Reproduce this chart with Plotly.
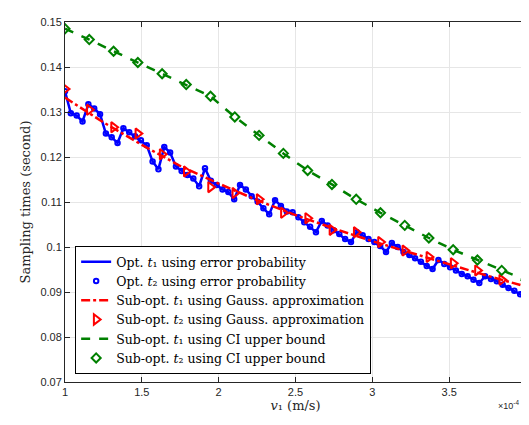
"""Sampling times vs. velocity v1: optimal vs. sub-optimal schemes."""

import plotly.graph_objects as go

# v1 in units of 1e-4 m/s
V1_OPT = [
    1.000, 1.038, 1.076, 1.114, 1.152, 1.190, 1.228, 1.266, 1.304, 1.342,
    1.380, 1.418, 1.456, 1.494, 1.532, 1.570, 1.608, 1.646, 1.684, 1.722,
    1.759, 1.797, 1.835, 1.873, 1.911, 1.949, 1.987, 2.025, 2.063, 2.101,
    2.139, 2.177, 2.215, 2.253, 2.291, 2.329, 2.367, 2.405, 2.443, 2.481,
    2.519, 2.557, 2.595, 2.633, 2.671, 2.709, 2.747, 2.785, 2.823, 2.861,
    2.899, 2.937, 2.975, 3.013, 3.051, 3.089, 3.127, 3.165, 3.203, 3.241,
    3.278, 3.316, 3.354, 3.392, 3.430, 3.468, 3.506, 3.544, 3.582, 3.620,
    3.658, 3.696, 3.734, 3.772, 3.810, 3.848, 3.886, 3.924, 3.962, 4.000,
]
T_OPT = [
    0.1346, 0.1297, 0.1292, 0.1279, 0.1317, 0.1308, 0.1295, 0.1252, 0.1244, 0.1231,
    0.1264, 0.1255, 0.1246, 0.1237, 0.1226, 0.1190, 0.1173, 0.1222, 0.1210, 0.1179,
    0.1169, 0.1160, 0.1152, 0.1135, 0.1175, 0.1147, 0.1138, 0.1128, 0.1122, 0.1106,
    0.1138, 0.1128, 0.1113, 0.1101, 0.1086, 0.1073, 0.1104, 0.1091, 0.1079, 0.1077,
    0.1066, 0.1055, 0.1045, 0.1033, 0.1058, 0.1048, 0.1037, 0.1029, 0.1018, 0.1011,
    0.1033, 0.1026, 0.1018, 0.1011, 0.1002, 0.0989, 0.1009, 0.1000, 0.0989, 0.0982,
    0.0975, 0.0967, 0.0958, 0.0951, 0.0971, 0.0962, 0.0955, 0.0948, 0.0940, 0.0935,
    0.0927, 0.0920, 0.0935, 0.0929, 0.0924, 0.0916, 0.0909, 0.0903, 0.0895, 0.0887,
]

V1_GAUSS_LINE = [1.0, 1.25, 1.5, 1.75, 2.0, 2.25, 2.5, 2.75, 3.0, 3.25, 3.5, 3.75, 4.0]
T_GAUSS_LINE = [0.1332, 0.1277, 0.1227, 0.1180, 0.1141, 0.1104, 0.1071,
                0.1041, 0.1013, 0.0987, 0.0961, 0.0936, 0.0912]

V1_MARK = [
    1.000, 1.158, 1.316, 1.474, 1.632, 1.789, 1.947, 2.105, 2.263, 2.421,
    2.579, 2.737, 2.895, 3.053, 3.211, 3.368, 3.526, 3.684, 3.842, 4.000,
]
T_GAUSS_MARK = [
    0.1351, 0.1305, 0.1266, 0.1252, 0.1206, 0.1168, 0.1133, 0.1120, 0.1106, 0.1076,
    0.1064, 0.1038, 0.1033, 0.1011, 0.0992, 0.0978, 0.0964, 0.0948, 0.0927, 0.0911,
]
T_CI = [
    0.1485, 0.1461, 0.1435, 0.1410, 0.1385, 0.1361, 0.1335, 0.1289, 0.1248, 0.1208,
    0.1170, 0.1139, 0.1106, 0.1076, 0.1048, 0.1020, 0.0994, 0.0971, 0.0948, 0.0926,
]

X_TICKS = [1, 1.5, 2, 2.5, 3, 3.5, 4]
X_TICK_LABELS = ["1", "1.5", "2", "2.5", "3", "3.5", "4"]
Y_TICKS = [0.07, 0.08, 0.09, 0.10, 0.11, 0.12, 0.13, 0.14, 0.15]
Y_TICK_LABELS = ["0.07", "0.08", "0.09", "0.1", "0.11", "0.12", "0.13", "0.14", "0.15"]

BLUE = "rgb(0,0,255)"
RED = "rgb(255,0,0)"
GREEN = "rgb(0,128,0)"
SERIF = "DejaVu Serif, serif"
SANS = "Liberation Sans, Arial, sans-serif"
AXIS_COLOR = "#262626"

fig = go.Figure()

fig.add_trace(go.Scatter(
    x=V1_OPT, y=T_OPT, mode="lines",
    name="Opt. <i>t</i>₁ using error probability",
    line=dict(color=BLUE, width=2.5),
))
fig.add_trace(go.Scatter(
    x=V1_OPT, y=T_OPT, mode="markers",
    name="Opt. <i>t</i>₂ using error probability",
    marker=dict(symbol="circle-open", size=4.5, color=BLUE, line=dict(width=2, color=BLUE)),
))
fig.add_trace(go.Scatter(
    x=V1_GAUSS_LINE, y=T_GAUSS_LINE, mode="lines",
    name="Sub-opt. <i>t</i>₁ using Gauss. approximation",
    line=dict(color=RED, width=2.5, dash="dashdot"),
))
fig.add_trace(go.Scatter(
    x=V1_MARK, y=T_GAUSS_MARK, mode="markers",
    name="Sub-opt. <i>t</i>₂ using Gauss. approximation",
    marker=dict(symbol="triangle-right-open", size=9, color=RED, line=dict(width=2, color=RED)),
))
fig.add_trace(go.Scatter(
    x=V1_MARK, y=T_CI, mode="lines",
    name="Sub-opt. <i>t</i>₁ using CI upper bound",
    line=dict(color=GREEN, width=2.5, dash="dash"),
))
fig.add_trace(go.Scatter(
    x=V1_MARK, y=T_CI, mode="markers",
    name="Sub-opt. <i>t</i>₂ using CI upper bound",
    marker=dict(symbol="diamond-open", size=7, color=GREEN, line=dict(width=2, color=GREEN)),
))

axis_common = dict(
    showgrid=True,
    gridcolor="#e6e6e6",
    gridwidth=1,
    zeroline=False,
    showline=True,
    linecolor=AXIS_COLOR,
    linewidth=1,
    mirror="ticks",
    ticks="inside",
    ticklen=5,
    tickcolor=AXIS_COLOR,
    tickfont=dict(family=SANS, size=11, color=AXIS_COLOR),
)

fig.update_xaxes(
    **axis_common,
    range=[1, 4],
    tickvals=X_TICKS,
    ticktext=X_TICK_LABELS,
    title=dict(text="<i>v</i>₁ (m/s)", font=dict(family=SERIF, size=13, color=AXIS_COLOR), standoff=2),
)
fig.update_yaxes(
    **axis_common,
    range=[0.07, 0.15],
    tickvals=Y_TICKS,
    ticktext=Y_TICK_LABELS,
    title=dict(text="Sampling times (second)", font=dict(family=SERIF, size=13, color=AXIS_COLOR), standoff=6),
)

fig.add_annotation(
    x=0.963, y=-0.065, xref="paper", yref="paper",
    text="×10<sup>-4</sup>", showarrow=False,
    font=dict(family=SANS, size=9, color=AXIS_COLOR),
    xanchor="center", yanchor="middle",
)

fig.update_layout(
    width=529,
    height=425,
    margin=dict(l=57, r=10, t=8, b=51),
    plot_bgcolor="white",
    paper_bgcolor="white",
    showlegend=True,
    legend=dict(
        x=0.022, y=0.022, xanchor="left", yanchor="bottom",
        bgcolor="white", bordercolor="#000000", borderwidth=1,
        font=dict(family=SERIF, size=12.5, color="#000000"),
        itemwidth=30, tracegroupgap=0,
    ),
)

fig.write_html("out.html")
